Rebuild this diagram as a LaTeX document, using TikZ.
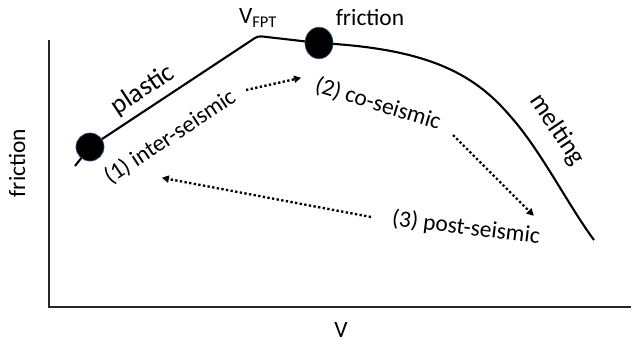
\documentclass[tikz,border=0pt]{standalone}
\usepackage{fontspec}
\setmainfont{Carlito}
\usetikzlibrary{arrows.meta, positioning, calc, shapes.geometric}
\definecolor{ringblue}{RGB}{55,100,140}

\begin{document}
\begin{tikzpicture}[
    x=0.03cm, y=-0.03cm,
    axis/.style={line width=1.3pt, black!85},
    curve/.style={line width=1.8pt, rounded corners=3pt},
    state/.style={circle, fill=black, draw=ringblue, line width=0.5pt, minimum size=24pt, inner sep=0pt},
    lbl/.style={font=\fontsize{20}{24}\selectfont, inner sep=1pt},
    biglbl/.style={font=\fontsize{23}{27}\selectfont, inner sep=1pt},
    dotarrow/.style={-{Triangle[length=6pt, width=6pt]}, line width=2pt, dash pattern=on 2pt off 2pt, shorten >=-1pt}
]
\useasboundingbox (0,0) rectangle (643,345);

% Axes
\coordinate (origin) at (49,307);
\coordinate (ytop) at (49,40);
\coordinate (xend) at (631,307);
\draw[axis] (ytop) -- (origin) -- (xend);
\node[lbl, rotate=90] (ylabel) at (17,163) {friction};
\node[lbl] (xlabel) at (341,330) {V};

% Friction curve
\coordinate (c0) at (75,166);
\coordinate (c1) at (90,147);
\coordinate (kink) at (258,36);
\coordinate (c2) at (319,43);
\coordinate (c3) at (511,117);
\coordinate (c4) at (594,240);
\draw[curve] (c0) -- (c1) -- (kink) -- (c2)
  .. controls (425,49) and (472,72) .. (c3)
  .. controls (542,153) and (570,208) .. (c4);

% States
\node[state] (inter) at (c1) {};
\node[state, ellipse, minimum height=27pt, minimum width=24pt] (co) at (c2) {};

% Labels
\node[lbl] (vfpt) at (258,18) {V\textsubscript{FPT}};
\node[lbl] (fric) at (370,17) {friction};
\node[biglbl, rotate=33.5] (plastic) at (143,90) {plastic};
\node[lbl, rotate=33.5] (one) at (170,137) {(1) inter-seismic};
\node[lbl, rotate=-17] (two) at (378,104) {(2) co-seismic};
\node[lbl, rotate=-7] (three) at (466,228) {(3) post-seismic};
\node[lbl, font=\fontsize{22}{26}\selectfont, rotate=-56] (melt) at (557,130) {melting};

% Cycle arrows
\coordinate (a1s) at (246,90);
\coordinate (a1e) at (300,78);
\coordinate (a2s) at (453,135);
\coordinate (a2e) at (533,215);
\coordinate (a3s) at (371,217);
\coordinate (a3e) at (163,178);
\draw[dotarrow] (a1s) -- (a1e);
\draw[dotarrow] (a2s) -- (a2e);
\draw[dotarrow] (a3s) -- (a3e);

\end{tikzpicture}
\end{document}
